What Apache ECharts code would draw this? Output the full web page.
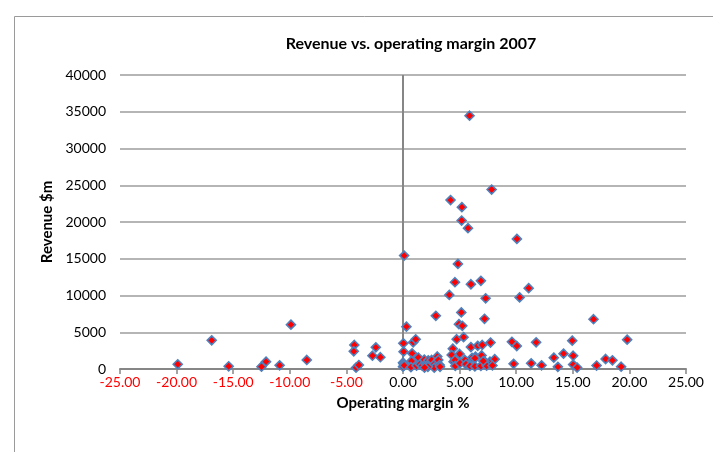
<!DOCTYPE html>
<html>
<head>
<meta charset="utf-8">
<script src="https://cdn.jsdelivr.net/npm/echarts@6/dist/echarts.min.js"></script>
<style>
  html, body { margin: 0; padding: 0; background: #fff; }
  #myChart { width: 713px; height: 452px; }
</style>
</head>
<body>
<div id="myChart"></div>
<script>
// operating margin % (x) and revenue $m (y)
var margin = [
  -19.9, -16.9, -15.4, -12.5, -12.1, -10.9, -9.9, -8.5, -4.3, -4.35, -4.15, -3.9, -2.7, -2.4, -2.0,
  0.1, 0.3, 0.03, 0.05, 0.0, 0.05, 0.0, 0.1, 0.9, 1.12, 0.8, 0.75, 0.7, 1.2, 1.35,
  1.5, 1.7, 1.88, 2.03, 2.23, 2.38, 2.53, 2.76, 2.76, 3.03, 3.12, 3.24, 3.27, 2.9, 2.2, 1.9,
  4.09, 4.2, 5.2, 5.18, 5.74, 5.88, 7.83, 10.06, 4.85, 4.59, 6.0, 6.88, 11.1, 7.3, 10.3,
  5.15, 4.94, 5.24, 7.2, 16.83, 4.74, 5.35, 7.73, 9.62, 10.05, 11.76, 14.95, 19.8,
  4.4, 5.0, 4.3, 6.0, 6.6, 7.0, 6.4, 6.94, 6.1, 7.68, 8.1, 7.2, 4.47, 4.59, 5.47, 6.35,
  4.62, 5.03, 5.56, 5.91, 6.35, 6.88, 7.39, 7.9, 7.09, 9.77, 11.32, 12.24, 13.32, 14.18,
  13.68, 15.03, 15.03, 15.38, 17.1, 17.9, 18.5, 19.27
];
var revenue = [
  640, 3900, 370, 310, 1000, 500, 6030, 1230, 3270, 2400, 180, 540, 1810, 2950, 1600,
  15430, 5760, 3500, 2360, 860, 700, 310, 500, 3630, 4040, 2130, 1090, 250, 450, 1560,
  640, 450, 1270, 640, 1180, 860, 1230, 640, 180, 1700, 1230, 550, 300, 7240, 300, 200,
  10080, 22980, 22020, 20200, 19160, 34460, 24420, 17700, 14300, 11810, 11530, 11990, 11000, 9620, 9740,
  7700, 6100, 5880, 6830, 6770, 4050, 4330, 3590, 3700, 3130, 3630, 3860, 3990,
  2770, 2040, 1910, 2980, 3150, 3270, 1680, 1850, 1520, 1000, 1340, 1050, 1000, 1230, 1230, 1460,
  410, 780, 640, 410, 350, 410, 450, 480, 1090, 700, 770, 500, 1540, 2090,
  290, 1810, 600, 200, 470, 1360, 1180, 310
];
var xTicks = { min: -25, max: 25, step: 5 };
var yTicks = { min: 0, max: 40000, step: 5000 };

var points = margin.map(function (m, i) { return [m, revenue[i]]; });
var font = "Lato, 'Open Sans', sans-serif";

var myChart = echarts.init(document.getElementById("myChart"));
var option = {
  animation: false,
  backgroundColor: "#ffffff",
  title: {
    text: "Revenue vs. operating margin 2007",
    left: 406,
    top: 31,
    textAlign: "center",
    textStyle: { fontFamily: font, fontSize: 16, fontWeight: "bold", color: "#000" }
  },
  // chart area border like the spreadsheet
  graphic: [{
    type: "rect",
    left: 12, top: 14,
    shape: { width: 760, height: 500 },
    style: { fill: "none", stroke: "#9a9a9a", lineWidth: 1 },
    silent: true
  }],
  grid: { left: 120, right: 27, top: 75, bottom: 83 },
  xAxis: {
    type: "value",
    min: xTicks.min, max: xTicks.max, interval: xTicks.step,
    name: "Operating margin %",
    nameLocation: "middle",
    nameGap: 27,
    nameTextStyle: { fontFamily: font, fontSize: 15, fontWeight: "bold", color: "#000" },
    axisLine: { onZero: false, lineStyle: { color: "#868686", width: 2 } },
    axisTick: { length: 5, lineStyle: { color: "#868686", width: 1.5 } },
    splitLine: { show: false },
    axisLabel: {
      margin: 6,
      fontFamily: font, fontSize: 14,
      formatter: function (v) { return v.toFixed(2); },
      color: function (v) { return v < 0 ? "#ff0000" : "#000000"; }
    }
  },
  yAxis: {
    type: "value",
    min: yTicks.min, max: yTicks.max, interval: yTicks.step,
    name: "Revenue $m",
    nameLocation: "middle",
    nameGap: 65,
    nameTextStyle: { fontFamily: font, fontSize: 15, fontWeight: "bold", color: "#000" },
    axisLine: { show: false },
    axisTick: { show: false },
    splitLine: { lineStyle: { color: "#9d9d9d", width: 1.5 } },
    axisLabel: {
      margin: 14, fontFamily: font, fontSize: 14, color: "#000",
      formatter: function (v) { return String(v); }
    }
  },
  series: [{
    type: "scatter",
    symbol: "diamond",
    symbolSize: 9,
    itemStyle: { color: "#ff0000", borderColor: "#4f81bd", borderWidth: 1.6, opacity: 1 },
    data: points,
    z: 5,
    markLine: {
      silent: true,
      symbol: ["none", "none"],
      label: { show: false },
      lineStyle: { color: "#868686", width: 2, type: "solid" },
      data: [{ xAxis: 0 }],
      z: 1
    }
  }]
};
myChart.setOption(option);
</script>
</body>
</html>
